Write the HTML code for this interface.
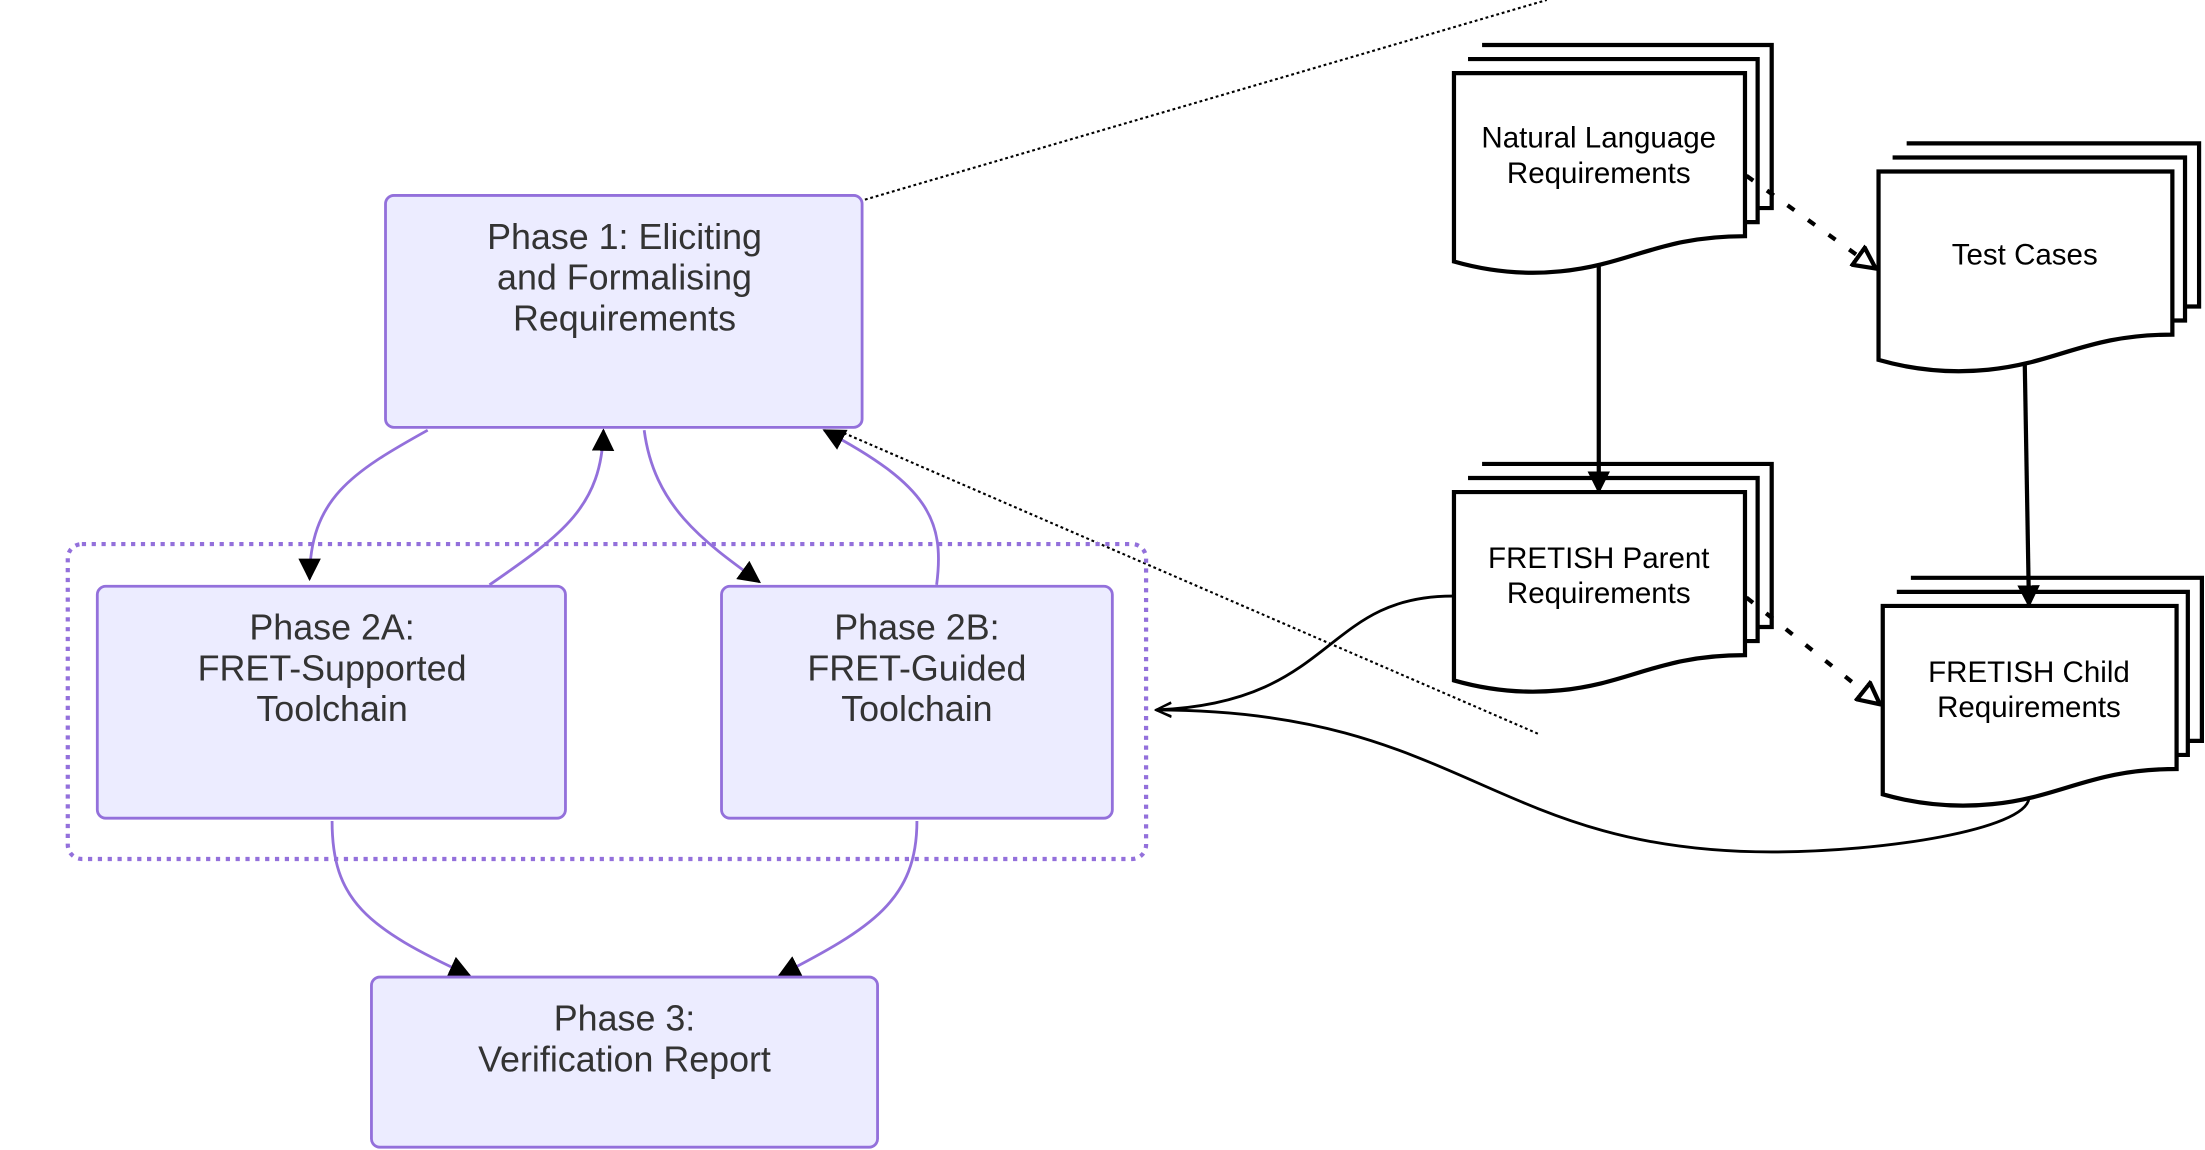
<!DOCTYPE html>
<html><head><meta charset="utf-8"><style>html,body{margin:0;padding:0;background:#fff}svg{display:block}text{font-family:"Liberation Sans",Arial,sans-serif}</style></head><body>
<svg width="2205" height="1150" viewBox="0 0 1568 818" xmlns="http://www.w3.org/2000/svg">
<defs>
<marker id="b" viewBox="0 0 12 12" markerWidth="16" markerHeight="16" refX="11" refY="6" orient="auto" markerUnits="userSpaceOnUse"><path d="M0,0 L12,6 L0,12 z" fill="#000"/></marker>
<marker id="o" viewBox="0 0 12 12" markerWidth="18" markerHeight="18" refX="11" refY="6" orient="auto" markerUnits="userSpaceOnUse"><path d="M1,1 L11,6 L1,11 z" fill="#fff" stroke="#000" stroke-width="2"/></marker>
<marker id="s" viewBox="0 0 12 12" markerWidth="12" markerHeight="12" refX="11" refY="6" orient="auto" markerUnits="userSpaceOnUse"><path d="M0,1 L11,6 L0,11" fill="none" stroke="#000" stroke-width="1.5"/></marker>
</defs>
<line x1="615" y1="142" x2="1100" y2="0" stroke="#000" stroke-width="1.5" stroke-dasharray="2,2"/>
<line x1="600" y1="308" x2="1094" y2="522" stroke="#000" stroke-width="1.5" stroke-dasharray="2,2"/>
<rect x="48" y="387" width="767" height="224" rx="10" fill="none" stroke="#9370DB" stroke-width="3" stroke-dasharray="3,4"/>
<g fill="none" stroke="#9370DB" stroke-width="2">
<path d="M304,306 C250,336 220,355 220,412" marker-end="url(#b)"/>
<path d="M348,416 C400,380 428,360 429,306" marker-end="url(#b)"/>
<path d="M458,306 C465,360 500,385 540,414" marker-end="url(#b)"/>
<path d="M666,416 C672,370 660,345 586,306" marker-end="url(#b)"/>
<path d="M236,584 C236,640 260,660 334,694" marker-end="url(#b)"/>
<path d="M652,584 C652,640 620,660 554,694" marker-end="url(#b)"/>
</g>
<g fill="#ECECFF" stroke="#9370DB" stroke-width="2">
<rect x="274" y="139" width="339" height="165" rx="6"/>
<rect x="69" y="417" width="333" height="165" rx="6"/>
<rect x="513" y="417" width="278" height="165" rx="6"/>
<rect x="264" y="695" width="360" height="121" rx="6"/>
</g>
<g font-size="25.5" fill="#333" text-anchor="middle">
<text x="444" y="177">Phase 1: Eliciting</text><text x="444" y="206">and Formalising</text><text x="444" y="235">Requirements</text>
<text x="236" y="455">Phase 2A:</text><text x="236" y="484">FRET-Supported</text><text x="236" y="513">Toolchain</text>
<text x="652" y="455">Phase 2B:</text><text x="652" y="484">FRET-Guided</text><text x="652" y="513">Toolchain</text>
<text x="444" y="733">Phase 3:</text><text x="444" y="762">Verification Report</text>
</g>
<g fill="none" stroke="#000" stroke-width="2">
<path d="M1033,424 C940,424 950,500 822,505" marker-end="url(#s)"/>
<path d="M1443,568 C1440,590 1340,606 1260,606 C1060,606 1040,505 822,505" marker-end="url(#s)"/>
</g>
<g fill="#fff" stroke="#000" stroke-width="3">
<g>
<path d="M1054,32 H1260 V148 H1250"/>
<path d="M1044,42 H1250 V158 H1241"/>
<path d="M1034,52 H1241 V168 C1180,168 1160,188 1110,193 C1080,196 1055,192 1034,186 Z"/>
</g>
<g transform="translate(0,298)">
<path d="M1054,32 H1260 V148 H1250"/>
<path d="M1044,42 H1250 V158 H1241"/>
<path d="M1034,52 H1241 V168 C1180,168 1160,188 1110,193 C1080,196 1055,192 1034,186 Z"/>
</g>
<g transform="translate(302,70)">
<path d="M1054,32 H1262 V148 H1252"/>
<path d="M1044,42 H1252 V158 H1243"/>
<path d="M1034,52 H1243 V168 C1182,168 1162,188 1112,193 C1082,196 1055,192 1034,186 Z"/>
</g>
<g transform="translate(305,379)">
<path d="M1054,32 H1261 V148 H1251"/>
<path d="M1044,42 H1251 V158 H1243"/>
<path d="M1034,52 H1243 V168 C1182,168 1162,188 1112,193 C1082,196 1055,192 1034,186 Z"/>
</g>
</g>
<g fill="none" stroke="#000" stroke-width="3">
<line x1="1137" y1="188" x2="1137" y2="350" marker-end="url(#b)"/>
<line x1="1440" y1="258" x2="1443" y2="431" marker-end="url(#b)"/>
<path d="M1242,125 L1334,191" stroke-dasharray="6,12" marker-end="url(#o)"/>
<path d="M1242,425 L1337,501" stroke-dasharray="6,12" marker-end="url(#o)"/>
</g>
<g font-size="21" fill="#000" text-anchor="middle">
<text x="1137" y="105">Natural Language</text><text x="1137" y="130">Requirements</text>
<text x="1440" y="188">Test Cases</text>
<text x="1137" y="404">FRETISH Parent</text><text x="1137" y="429">Requirements</text>
<text x="1443" y="485">FRETISH Child</text><text x="1443" y="510">Requirements</text>
</g>
</svg>
</body></html>
